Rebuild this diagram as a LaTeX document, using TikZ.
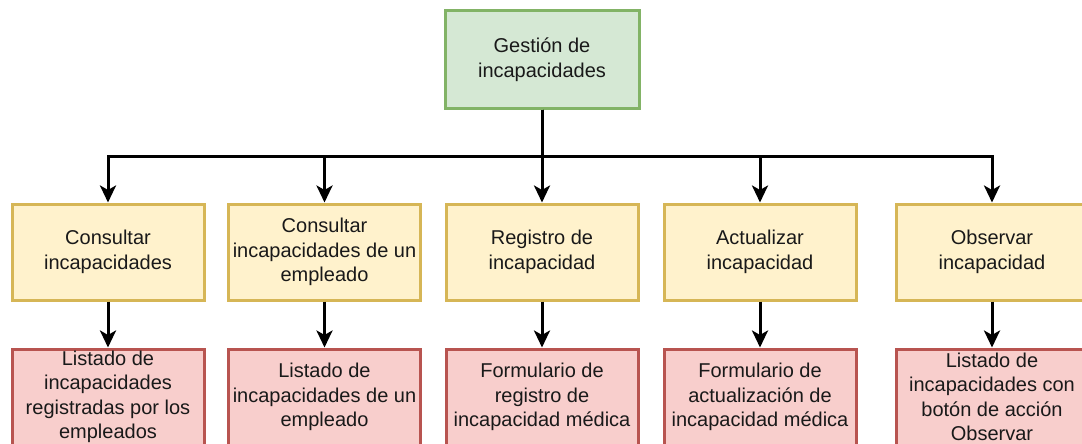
\documentclass[tikz,border=0pt]{standalone}
\usepackage{fontspec}
\setmainfont{Liberation Sans}
\usetikzlibrary{arrows.meta}
\definecolor{gfill}{HTML}{D5E8D4}
\definecolor{gline}{HTML}{82B366}
\definecolor{yfill}{HTML}{FFF2CC}
\definecolor{yline}{HTML}{D6B656}
\definecolor{rfill}{HTML}{F8CECC}
\definecolor{rline}{HTML}{B85450}
\tikzset{
  box/.style={draw, line width=3pt, minimum width=192pt, minimum height=96pt, inner sep=0pt,
    align=center, font=\fontsize{20pt}{24.5pt}\selectfont, text=black!90},
  gbox/.style={box, fill=gfill, draw=gline, minimum width=194pt, minimum height=97pt},
  ybox/.style={box, fill=yfill, draw=yline},
  rbox/.style={box, fill=rfill, draw=rline},
  arr/.style={line width=3pt, -{Stealth[length=17pt, width=16pt, inset=4.5pt]}}
}
\begin{document}
\begin{tikzpicture}[x=1pt, y=-1pt]
\useasboundingbox (0,0) rectangle (1082,444);
\node[gbox] (top) at (542,59.5) {Gestión de\\incapacidades};
\coordinate (j) at (542,156);
\node[ybox] (y1) at (108,252) {Consultar\\incapacidades};
\node[ybox] (y2) at (324.5,252) {Consultar\\incapacidades de un\\empleado};
\node[ybox] (y3) at (542,252) {Registro de\\incapacidad};
\node[ybox] (y4) at (760,252) {Actualizar\\incapacidad};
\node[ybox] (y5) at (992,252) {Observar\\incapacidad};
\node[rbox] (r1) at (108,397) {Listado de\\incapacidades\\registradas por los\\empleados};
\node[rbox] (r2) at (324.5,397) {Listado de\\incapacidades de un\\empleado};
\node[rbox] (r3) at (542,397) {Formulario de\\registro de\\incapacidad médica};
\node[rbox] (r4) at (760,397) {Formulario de\\actualización de\\incapacidad médica};
\node[rbox] (r5) at (992,397) {Listado de\\incapacidades con\\botón de acción\\Observar};
\foreach \i in {1,...,5}{
  \draw[arr] (top.south) -- (j) -| (y\i.north);
  \draw[arr] (y\i.south) -- (r\i.north);
}
\end{tikzpicture}
\end{document}
